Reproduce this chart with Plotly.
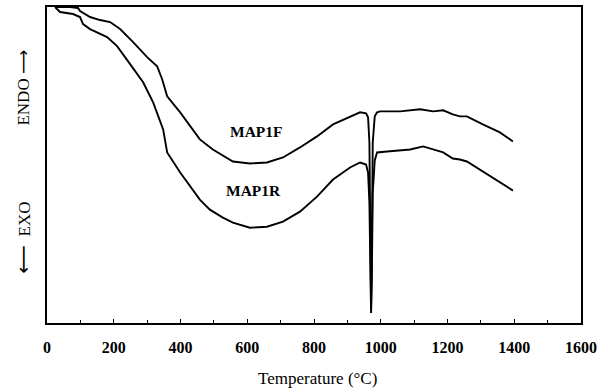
import plotly.graph_objects as go

# MAP1F (upper DTA curve), temperature in °C, signal in arbitrary units
t_map1f = [24, 69, 93, 99, 129, 159, 189, 219, 258, 300, 330, 345, 360, 399, 458, 497, 557, 608,
           659, 707, 758, 809, 857, 908, 938, 956, 962, 966, 969, 971, 973, 976, 982, 989, 998,
           1058, 1118, 1157, 1187, 1216, 1237, 1258, 1306, 1357, 1396]
s_map1f = [315, 315, 314, 311, 305, 302, 300, 293, 280, 265, 256, 243, 226, 210, 183, 173, 161, 159,
           160, 165, 175, 186, 198, 206, 210, 209, 205, 180, 60, 14, 60, 180, 206, 210, 211,
           211, 213, 211, 212, 208, 206, 206, 198, 190, 181]

# MAP1R (lower DTA curve)
t_map1r = [24, 39, 78, 99, 108, 129, 180, 210, 249, 288, 318, 348, 360, 399, 458, 488, 527, 557,
           608, 659, 707, 758, 809, 857, 908, 938, 956, 962, 966, 969, 971, 973, 976, 982, 989,
           1019, 1088, 1127, 1157, 1187, 1216, 1237, 1258, 1306, 1357, 1396]
s_map1r = [315, 310, 308, 305, 298, 293, 285, 276, 258, 240, 220, 193, 170, 150, 123, 113, 105, 100,
           95, 96, 101, 111, 126, 143, 155, 160, 158, 150, 120, 40, 10, 40, 130, 162, 170,
           171, 173, 176, 173, 170, 164, 163, 161, 151, 141, 132]

x_ticks = [0, 200, 400, 600, 800, 1000, 1200, 1400, 1600]

FONT = "Liberation Serif"

fig = go.Figure()
fig.add_trace(go.Scatter(x=t_map1f, y=s_map1f, mode="lines", name="MAP1F",
                         line=dict(color="black", width=1.9)))
fig.add_trace(go.Scatter(x=t_map1r, y=s_map1r, mode="lines", name="MAP1R",
                         line=dict(color="black", width=1.9)))

fig.update_layout(
    width=609, height=389,
    margin=dict(l=47, r=28, t=7, b=66, autoexpand=False),
    paper_bgcolor="white", plot_bgcolor="white",
    showlegend=False,
    font=dict(family=FONT, color="black"),
)
fig.update_xaxes(
    range=[0, 1600], tickvals=x_ticks, ticktext=[str(v) for v in x_ticks],
    showgrid=False, zeroline=False, showline=True, linecolor="black", linewidth=2, mirror=True,
    ticks="inside", ticklen=4, tickcolor="black", tickwidth=1,
    minor=dict(dtick=100, ticks="inside", ticklen=3, tickcolor="black"),
    tickfont=dict(family=FONT, size=16, color="black", weight="bold"),
    ticklabelstandoff=9,
)
fig.update_yaxes(
    range=[0, 315], showticklabels=False,
    showgrid=False, zeroline=False, showline=True, linecolor="black", linewidth=2, mirror=True,
    ticks="",
)

fig.add_annotation(x=627, y=191, text="MAP1F", showarrow=False,
                   font=dict(family=FONT, size=15.5, color="black", weight="bold"))
fig.add_annotation(x=620, y=132, text="MAP1R", showarrow=False,
                   font=dict(family=FONT, size=15.5, color="black", weight="bold"))
fig.add_annotation(xref="paper", yref="paper", x=0.506, y=-0.175, text="Temperature (°C)",
                   showarrow=False, xanchor="center", yanchor="middle",
                   font=dict(family=FONT, size=17, color="black"))
fig.add_annotation(xref="paper", yref="paper", x=-0.045, y=0.745,
                   text="ENDO <span style='font-family:DejaVu Sans; font-size:17px'>⟶</span>",
                   showarrow=False, textangle=-90, xanchor="center", yanchor="middle",
                   font=dict(family=FONT, size=17, color="black"))
fig.add_annotation(xref="paper", yref="paper", x=-0.045, y=0.27,
                   text="<span style='font-family:DejaVu Sans; font-size:20px'>⟵</span>  EXO",
                   showarrow=False, textangle=-90, xanchor="center", yanchor="middle",
                   font=dict(family=FONT, size=17, color="black"))

fig.write_html("out.html", post_script="document.body.style.margin='0';",
               config={"displayModeBar": False})
